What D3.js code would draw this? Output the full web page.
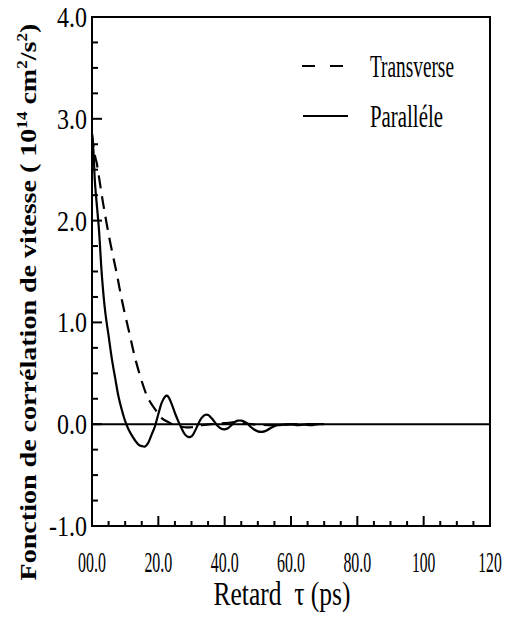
<!DOCTYPE html>
<html>
<head>
<meta charset="utf-8">
<script src="https://cdn.jsdelivr.net/npm/d3@7"></script>
<style>
	body { margin: 0; background: #fff; }
	text { font-family: 'Liberation Serif', 'DejaVu Serif', serif; fill: #000; }
</style>
</head>
<body>
<svg id="chart" width="507" height="620"></svg>
<script>

// courbe transverse (tirets)
var tauTrans = [0, 0.5, 1, 1.4, 2, 3.4, 5.4, 7.4, 9, 11.3, 13.4, 16.3, 17.5, 19.6, 21, 23, 25, 28, 30, 33, 36, 40, 44, 48, 55, 62, 70];
var transverse = [2.85, 2.72, 2.62, 2.57, 2.45, 2.16, 1.80, 1.49, 1.22, 0.89, 0.60, 0.30, 0.22, 0.12, 0.06, 0.02, -0.01, -0.03, -0.03, -0.01, 0.0, 0.01, 0.02, 0.0, -0.01, 0.0, 0.0];

// courbe parallele (trait plein)
var tauPar = [0, 0.4, 0.9, 2.1, 3, 4, 5, 6, 7, 8, 9, 10, 11, 12, 13, 14, 15, 16, 17, 18, 19, 20, 21, 22, 22.5, 23, 24, 25, 26, 27, 28, 29, 30, 31, 32, 33, 34, 35, 36, 37, 38, 39, 40, 41, 42, 43, 44, 45, 46, 47, 48, 49, 50, 51, 52, 53, 54, 55, 56, 58, 60, 62, 64, 66, 68, 70];
var parallele = [2.85, 2.7, 2.37, 1.91, 1.45, 1.1, 0.87, 0.64, 0.45, 0.27, 0.14, 0.03, -0.05, -0.11, -0.16, -0.2, -0.215, -0.22, -0.18, -0.1, -0.02, 0.1, 0.21, 0.27, 0.28, 0.27, 0.2, 0.11, 0.03, -0.04, -0.1, -0.125, -0.12, -0.07, 0.0, 0.06, 0.09, 0.09, 0.06, 0.02, -0.02, -0.045, -0.05, -0.04, -0.01, 0.02, 0.035, 0.035, 0.025, 0.0, -0.03, -0.055, -0.07, -0.075, -0.07, -0.055, -0.035, -0.02, -0.01, -0.005, 0.0, -0.01, -0.005, -0.01, 0.0, 0.0];

var xTickValues = [0, 20, 40, 60, 80, 100, 120];
var xTickLabels = ['00.0', '20.0', '40.0', '60.0', '80.0', '100', '120'];
var yTickValues = [-1, 0, 1, 2, 3, 4];
var yTickLabels = ['-1.0', '0.0', '1.0', '2.0', '3.0', '4.0'];
var seriesNames = ['Transverse', 'Paralléle'];

var svg = d3.select('#chart');
var g = svg.append('g');

var plotLeft = 92, plotRight = 490, plotTop = 17, plotBottom = 526;

var xScale = d3.scaleLinear().domain([0, 120]).range([plotLeft, plotRight]);
var yScale = d3.scaleLinear().domain([-1, 4]).range([plotBottom, plotTop]);

// largeur approx. des chiffres etroits
function labelWidth(s, dig, dot, minus) {
	var w = 0;
	for (var i = 0; i < s.length; i++) {
		if (s[i] == '.') w += dot;
		else if (s[i] == '-') w += minus;
		else w += dig;
	}
	return w;
}

// texte etroit : on mesure puis on comprime en x
function narrowText(str, x, y, size, width, anchor) {
	var t = g.append('text')
		.text(str)
		.style('font-size', size + 'px')
		.style('white-space', 'pre')
		.attr('text-anchor', anchor);
	var natural = t.node().getComputedTextLength();
	t.attr('transform', 'translate(' + x + ',' + y + ') scale(' + (width / natural) + ',1)');
	return t;
}

function drawFrame() {

	g.append('rect')
		.attr('x', xScale(0))
		.attr('y', yScale(4))
		.attr('width', xScale(120) - xScale(0))
		.attr('height', yScale(-1) - yScale(4))
		.style('fill', 'none')
		.attr('stroke', '#000')
		.attr('stroke-width', 2);

	g.append('line') // ligne zero
		.attr('x1', xScale(0))
		.attr('y1', yScale(0))
		.attr('x2', xScale(120))
		.attr('y2', yScale(0))
		.attr('stroke', '#000')
		.attr('stroke-width', 2);
}

function drawTicks() {

	// x : majeures tous les 20, mineures tous les 5
	d3.range(0, 121, 5).forEach(function(v) {
		var major = v % 20 == 0;
		if (v == 0 || v == 120) return;
		g.append('line')
			.attr('x1', xScale(v))
			.attr('y1', yScale(-1))
			.attr('x2', xScale(v))
			.attr('y2', yScale(-1) - (major ? 10 : 5))
			.attr('stroke', '#000')
			.attr('stroke-width', 2);
	});

	// y : majeures tous les 1.0, mineures tous les 0.25
	d3.range(-1, 4.01, 0.25).forEach(function(v) {
		var major = Math.abs(v - Math.round(v)) < 0.001;
		if (v <= -1 || v >= 4) return;
		g.append('line')
			.attr('x1', xScale(0))
			.attr('y1', yScale(v))
			.attr('x2', xScale(0) + (major ? 10 : 6))
			.attr('y2', yScale(v))
			.attr('stroke', '#000')
			.attr('stroke-width', 2);
	});

	xTickValues.forEach(function(v, i) {
		narrowText(xTickLabels[i], xScale(v), 572, 29, labelWidth(xTickLabels[i], 7.8, 4.5, 6), 'middle');
	});

	yTickValues.forEach(function(v, i) {
		narrowText(yTickLabels[i], 87, yScale(v) + 10, 30, labelWidth(yTickLabels[i], 12, 6, 8), 'end');
	});
}

function drawCurves() {

	var line = d3.line()
		.x(function(d) { return xScale(d[0]); })
		.y(function(d) { return yScale(d[1]); })
		.curve(d3.curveCatmullRom.alpha(0.5));

	g.append('path')
		.datum(d3.zip(tauTrans, transverse))
		.attr('d', line)
		.style('fill', 'none')
		.attr('stroke', '#000')
		.attr('stroke-width', 2.2)
		.style('stroke-dasharray', '13,8');

	g.append('path')
		.datum(d3.zip(tauPar, parallele))
		.attr('d', line)
		.style('fill', 'none')
		.attr('stroke', '#000')
		.attr('stroke-width', 2.2);
}

function drawLegend() {

	g.append('line')
		.attr('x1', 302)
		.attr('y1', 66)
		.attr('x2', 344)
		.attr('y2', 66)
		.attr('stroke', '#000')
		.attr('stroke-width', 2)
		.style('stroke-dasharray', '13,15');

	g.append('line')
		.attr('x1', 303)
		.attr('y1', 116)
		.attr('x2', 348)
		.attr('y2', 116)
		.attr('stroke', '#000')
		.attr('stroke-width', 2);

	narrowText(seriesNames[0], 370, 77, 32, 84, 'start');
	narrowText(seriesNames[1], 370, 127, 32, 73, 'start');
}

function drawTitles() {

	narrowText('Retard  τ (ps)', 282, 605, 33, 137, 'middle');

	// titre vertical, etire dans le sens du texte
	var yt = g.append('text')
		.attr('transform', 'translate(36,302) rotate(-90) scale(1.22,1)')
		.style('font-size', '23px')
		.style('font-weight', 'bold')
		.attr('text-anchor', 'middle');

	yt.append('tspan').text('Fonction de corrélation de vitesse ( 10');
	yt.append('tspan').text('14').attr('dy', -9).style('font-size', '14px');
	yt.append('tspan').text(' cm').attr('dy', 9);
	yt.append('tspan').text('2').attr('dy', -9).style('font-size', '14px');
	yt.append('tspan').text('/s').attr('dy', 9);
	yt.append('tspan').text('2').attr('dy', -9).style('font-size', '14px');
	yt.append('tspan').text(')').attr('dy', 9);
}

drawFrame();
drawTicks();
drawCurves();
drawLegend();
drawTitles();

</script>
</body>
</html>
